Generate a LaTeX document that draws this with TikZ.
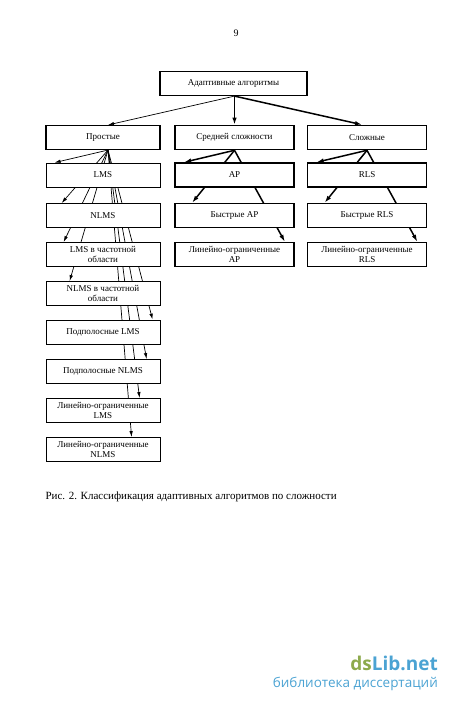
\documentclass[tikz,border=0pt]{standalone}
\usepackage{fontspec}
\setmainfont{Liberation Serif}
\newfontfamily\wmfont{Open Sans}
\usetikzlibrary{backgrounds,arrows.meta}
\definecolor{wmgreen}{HTML}{8DAA4C}
\definecolor{wmblue}{HTML}{4BA3D3}

\tikzset{box/.style={draw, fill=white, line width=0.8pt, minimum width=114pt, minimum height=24pt,
    align=center, inner sep=1pt, font=\fontsize{9}{10}\selectfont},
  boxb/.style={box, line width=1.6pt, minimum width=119pt},
  thinarr/.style={-{Latex[length=6pt,width=3.5pt]}, line width=0.7pt},
  boldarr/.style={-{Latex[length=7pt,width=4.5pt]}, line width=1.5pt}}

\begin{document}
\begin{tikzpicture}[x=1pt, y=-1pt]
  \useasboundingbox (0,0) rectangle (450,703);
  \node (num) at (236,33) {9};
  \node[box, line width=1.2pt, minimum width=147pt] (root) at (233.5,83.5) {Адаптивные алгоритмы};
  % level 2
  \node[box, line width=1.1pt] (prost) at (103,137.5) {Простые};
  \node[boxb] (sred) at (234.5,137.5) {Средней сложности};
  \node[boxb] (slozh) at (367,137.5) {Сложные};
  % simple ones
  \node[box] (lms) at (103,175) {LMS};
  \node[box] (nlms) at (103,215.5) {NLMS};
  \node[box] (lmsf) at (103,254.5) {LMS в частотной\\области};
  \node[box] (nlmsf) at (103,293.5) {NLMS в частотной\\области};
  \node[box] (sblms) at (103,332) {Подполосные LMS};
  \node[box] (sbnlms) at (103,371.5) {Подполосные NLMS};
  \node[box] (lclms) at (103,410.5) {Линейно-ограниченные\\LMS};
  \node[box] (lcnlms) at (103,449.5) {Линейно-ограниченные\\NLMS};
  % medium and complex
  \node[boxb] (ap) at (234.5,175) {AP};
  \node[boxb] (fap) at (234.5,215.5) {Быстрые AP};
  \node[boxb] (lcap) at (234.5,254.5) {Линейно-ограниченные\\AP};
  \node[boxb] (rls) at (367,175) {RLS};
  \node[boxb] (frls) at (367,215.5) {Быстрые RLS};
  \node[boxb] (lcrls) at (367,254.5) {Линейно-ограниченные\\RLS};

  \node[anchor=west, font=\fontsize{11}{13}\selectfont] (cap) at (42,497)
    {Рис. 2. Классификация адаптивных алгоритмов по сложности};

  \node[anchor=east, inner sep=0pt, font=\wmfont\bfseries\fontsize{19}{21}\selectfont] (wm) at (438,663)
    {\textcolor{wmgreen}{ds}\textcolor{wmblue}{Lib.net}};
  \node[anchor=east, inner sep=0pt, text=wmblue, font=\wmfont\fontsize{13.5}{15}\selectfont] (wmsub) at (438,684)
    {библиотека диссертаций};

  \begin{scope}[on background layer]
    \draw[thinarr] ([xshift=1pt]root.south) -- ([xshift=5pt]prost.north);
    \draw[boldarr] ([xshift=1pt]root.south) -- (sred.north);
    \draw[boldarr] ([xshift=1pt]root.south) -- ([xshift=-5pt]slozh.north);
    \foreach \t/\d in {lms/9, nlms/16, lmsf/18, nlmsf/24, sblms/107, sbnlms/101, lclms/94, lcnlms/86}
      \draw[thinarr] ([xshift=5pt]prost.south) -- ([xshift=\d pt]\t.north west);
    \foreach \s/\a/\b/\c in {sred/ap/fap/lcap, slozh/rls/frls/lcrls} {
      \draw[boldarr] (\s.south) -- ([xshift=10pt]\a.north west);
      \draw[boldarr] (\s.south) -- ([xshift=18pt]\b.north west);
      \draw[boldarr] (\s.south) -- ([xshift=-10pt]\c.north east);
    }
  \end{scope}
\end{tikzpicture}
\end{document}
